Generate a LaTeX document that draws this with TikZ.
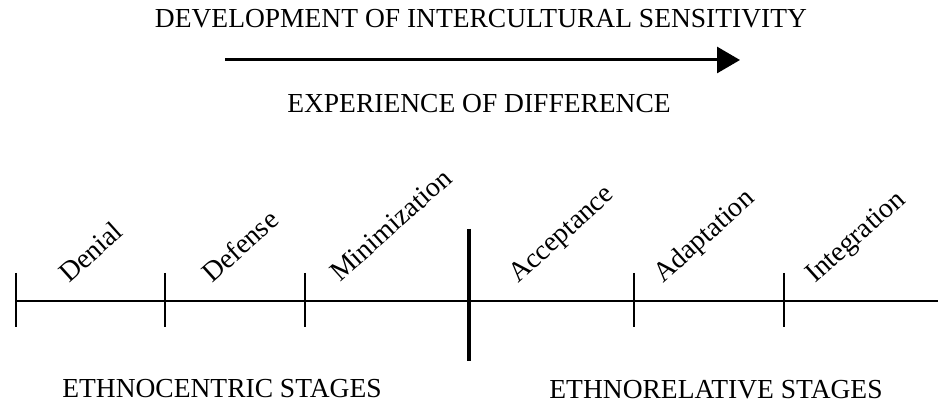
\documentclass[tikz,border=0pt]{standalone}
\usepackage{fontspec}
\setmainfont{Liberation Serif}
\usetikzlibrary{arrows.meta}
\tikzset{
  caps/.style={inner sep=0pt, anchor=base, font=\fontsize{27.5}{30}\selectfont},
  stage/.style={inner sep=0pt, anchor=base west, rotate=42, font=\fontsize{28}{30}\selectfont},
  axis/.style={line width=2pt},
  tick/.style={line width=2pt},
  bigtick/.style={line width=4pt},
  devarrow/.style={line width=3pt, -{Triangle[length=23pt,width=26pt]}}
}
\begin{document}
\begin{tikzpicture}[x=1pt,y=-1pt]
\useasboundingbox[fill=white] (0,0) rectangle (938,406);
% top
\node[caps] (title) at (481,28) {DEVELOPMENT OF INTERCULTURAL SENSITIVITY};
\coordinate (arrS) at (225,60);
\coordinate (arrE) at (740,60);
\draw[devarrow] (arrS) -- (arrE);
\node[caps] (exp) at (479,113) {EXPERIENCE OF DIFFERENCE};
% axis
\coordinate (axL) at (16,301);
\coordinate (axR) at (938,301);
\draw[axis] (axL) -- (axR);
\foreach \x/\n in {16/t1,165/t2,305/t3,634/t5,784/t6}{
  \coordinate (\n top) at (\x,273);
  \coordinate (\n bot) at (\x,327);
  \draw[tick] (\n top) -- (\n bot);
}
\coordinate (t4top) at (469,229);
\coordinate (t4bot) at (469,361);
\draw[bigtick] (t4top) -- (t4bot);
% stage labels
\node[stage] (denial) at (69,284) {Denial};
\node[stage] (defense) at (212,284) {Defense};
\node[stage] (mini) at (340,283) {Minimization};
\node[stage] (accept) at (518,284) {Acceptance};
\node[stage] (adapt) at (663,284) {Adaptation};
\node[stage] (integ) at (815,284) {Integration};
% bottom
\node[caps] (ethc) at (222,397) {ETHNOCENTRIC STAGES};
\node[caps] (ethr) at (716,398) {ETHNORELATIVE STAGES};
\end{tikzpicture}
\end{document}
